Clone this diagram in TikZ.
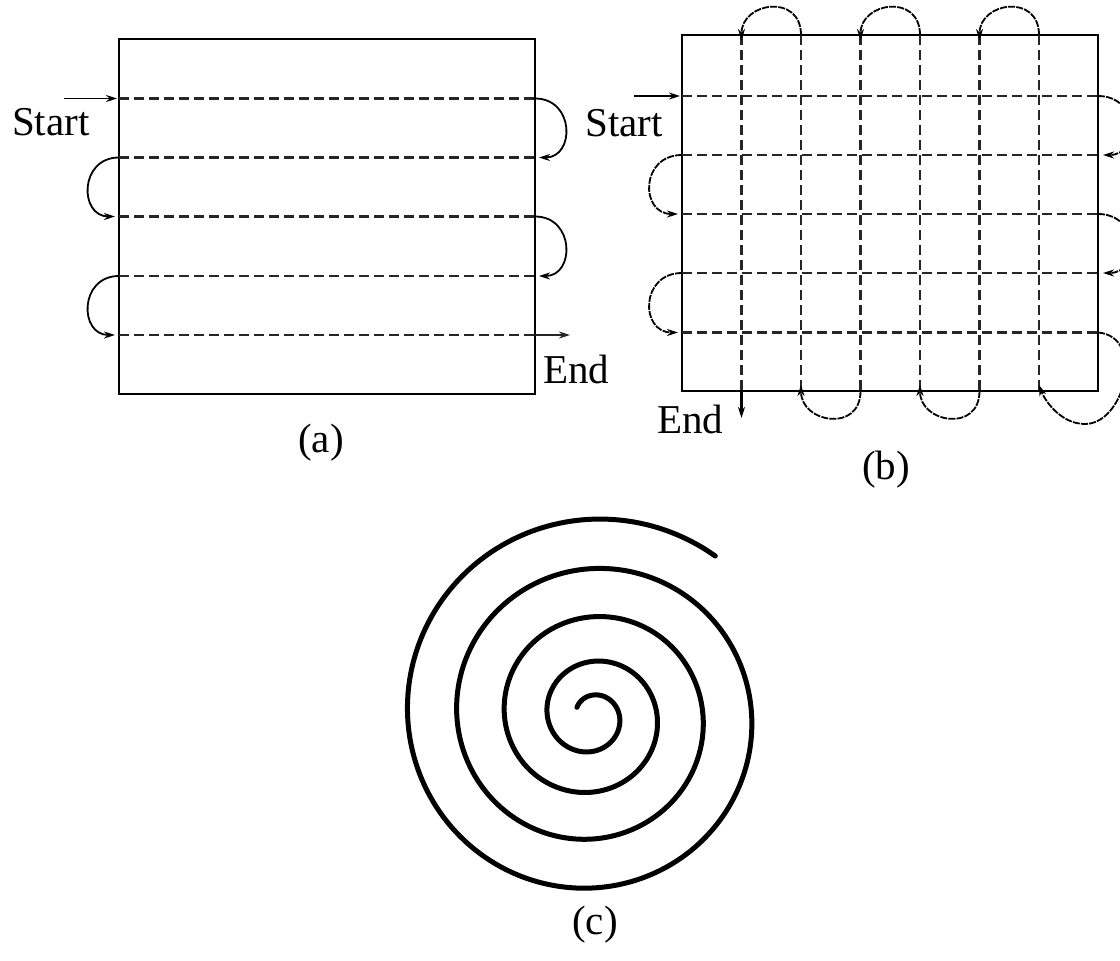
\documentclass[tikz,border=0pt]{standalone}
\usepackage{fontspec}
\setmainfont{Liberation Serif}
\usetikzlibrary{arrows.meta}
\begin{document}
\begin{tikzpicture}[x=1pt,y=-1pt,
  boxline/.style={line width=2.8pt},
  scanline/.style={line width=2.7pt, dash pattern=on 10pt off 5pt, draw=black!85},
  loopa/.style={line width=1.8pt, -{Stealth[length=11pt,width=7pt]}},
  loopb/.style={line width=1.8pt, dash pattern=on 7pt off 1.2pt, -{Stealth[length=11pt,width=7pt]}},
  tip/.style={-{Stealth[length=11pt,width=7pt]}},
  lbl/.style={inner sep=0pt, font=\fontsize{41}{48}\selectfont},
  spiralline/.style={line width=5pt, line cap=round}
]
\useasboundingbox[fill=white] (0,0) rectangle (1120,961);

% ---------------- (a) ----------------
\coordinate (aTL) at (119,39);
\coordinate (aBR) at (535,394);
\draw[boxline] (aTL) rectangle (aBR);
\foreach \i/\y in {1/98.5,2/157.5,3/216.5,4/276,5/335}{
  \coordinate (aL\i) at (119,\y);
  \coordinate (aR\i) at (535,\y);
}
\foreach \i in {1,...,4}{ \draw[scanline] (aL\i) -- (aR\i); }
\coordinate (aEnd) at (570,335);
\draw[scanline] (aL5) -- (aR5);
\draw[line width=2.4pt, tip, draw=black!85] (aR5) -- (aEnd);
\coordinate (aS) at (64,98.5);
\draw[line width=1.8pt, tip] (aS) -- ([xshift=-2pt]aL1);
% right loops
\draw[loopa] (aR1) .. controls +(40,0) and +(36,0) .. ([xshift=4pt]aR2);
\draw[loopa] (aR3) .. controls +(40,0) and +(36,0) .. ([xshift=4pt]aR4);
% left loops
\draw[loopa] (aL2) .. controls +(-40,0) and +(-36,0) .. ([xshift=-4pt]aL3);
\draw[loopa] (aL4) .. controls +(-40,0) and +(-36,0) .. ([xshift=-4pt]aL5);
\node[lbl, anchor=base west] (aStart) at (12,135) {Start};
\node[lbl, anchor=base west] (aEndT) at (543,383) {End};
\node[lbl] (acap) at (321,443) {(a)};

% ---------------- (b) ----------------
\coordinate (bTL) at (682,35);
\coordinate (bBR) at (1098,391);
\draw[boxline] (bTL) rectangle (bBR);
\foreach \i/\y in {1/96,2/155,3/214,4/273,5/332.5}{
  \coordinate (bL\i) at (682,\y);
  \coordinate (bR\i) at (1098,\y);
  \draw[scanline] (bL\i) -- (bR\i);
}
\foreach \i/\x in {1/741.5,2/801,3/860.5,4/920,5/979.5,6/1039}{
  \coordinate (bT\i) at (\x,35);
  \coordinate (bB\i) at (\x,391);
  \draw[scanline] (bT\i) -- (bB\i);
}
\coordinate (bEnd) at (741.5,418);
\draw[line width=2.4pt, tip] (bB1) -- (bEnd);
\coordinate (bS) at (634,96);
\draw[line width=1.8pt, tip] (bS) -- ([xshift=-2pt]bL1);
% right loops
\draw[loopb] (bR1) .. controls +(42,0) and +(38,0) .. ([xshift=5pt]bR2);
\draw[loopb] (bR3) .. controls +(42,0) and +(38,0) .. ([xshift=5pt]bR4);
% left loops
\draw[loopb] (bL2) .. controls +(-42,0) and +(-38,0) .. ([xshift=-4pt]bL3);
\draw[loopb] (bL4) .. controls +(-42,0) and +(-38,0) .. ([xshift=-4pt]bL5);
% big bottom-right loop
\coordinate (bBig) at (1085,424);
\draw[loopb] (bR5) .. controls +(48,4) and +(40,0) .. (bBig)
   .. controls +(-24,0) and +(6,16) .. ([yshift=6pt]bB6);
% top loops
\draw[loopb] (bT6) .. controls +(0,-42) and +(0,-38) .. ([yshift=-5pt]bT5);
\draw[loopb] (bT4) .. controls +(0,-42) and +(0,-38) .. ([yshift=-5pt]bT3);
\draw[loopb] (bT2) .. controls +(0,-42) and +(0,-38) .. ([yshift=-5pt]bT1);
% bottom loops
\draw[loopb] (bB5) .. controls +(0,42) and +(0,38) .. ([yshift=6pt]bB4);
\draw[loopb] (bB3) .. controls +(0,42) and +(0,38) .. ([yshift=6pt]bB2);
\node[lbl, anchor=base west] (bStart) at (585,136) {Start};
\node[lbl, anchor=base west] (bEndT) at (657,433) {End};
\node[lbl] (bcap) at (886,470) {(b)};

% ---------------- (c) ----------------
\draw[spiralline] plot[domain=0.083:4.357, samples=500, smooth, variable=\u]
  ({592 + (50*\u - 16 + 32*exp(-1.1*\u))*cos(180 - 360*\u)},
   {716 - (50*\u - 16 + 32*exp(-1.1*\u))*sin(180 - 360*\u)});
\node[lbl] (ccap) at (595,925) {(c)};
\end{tikzpicture}
\end{document}
